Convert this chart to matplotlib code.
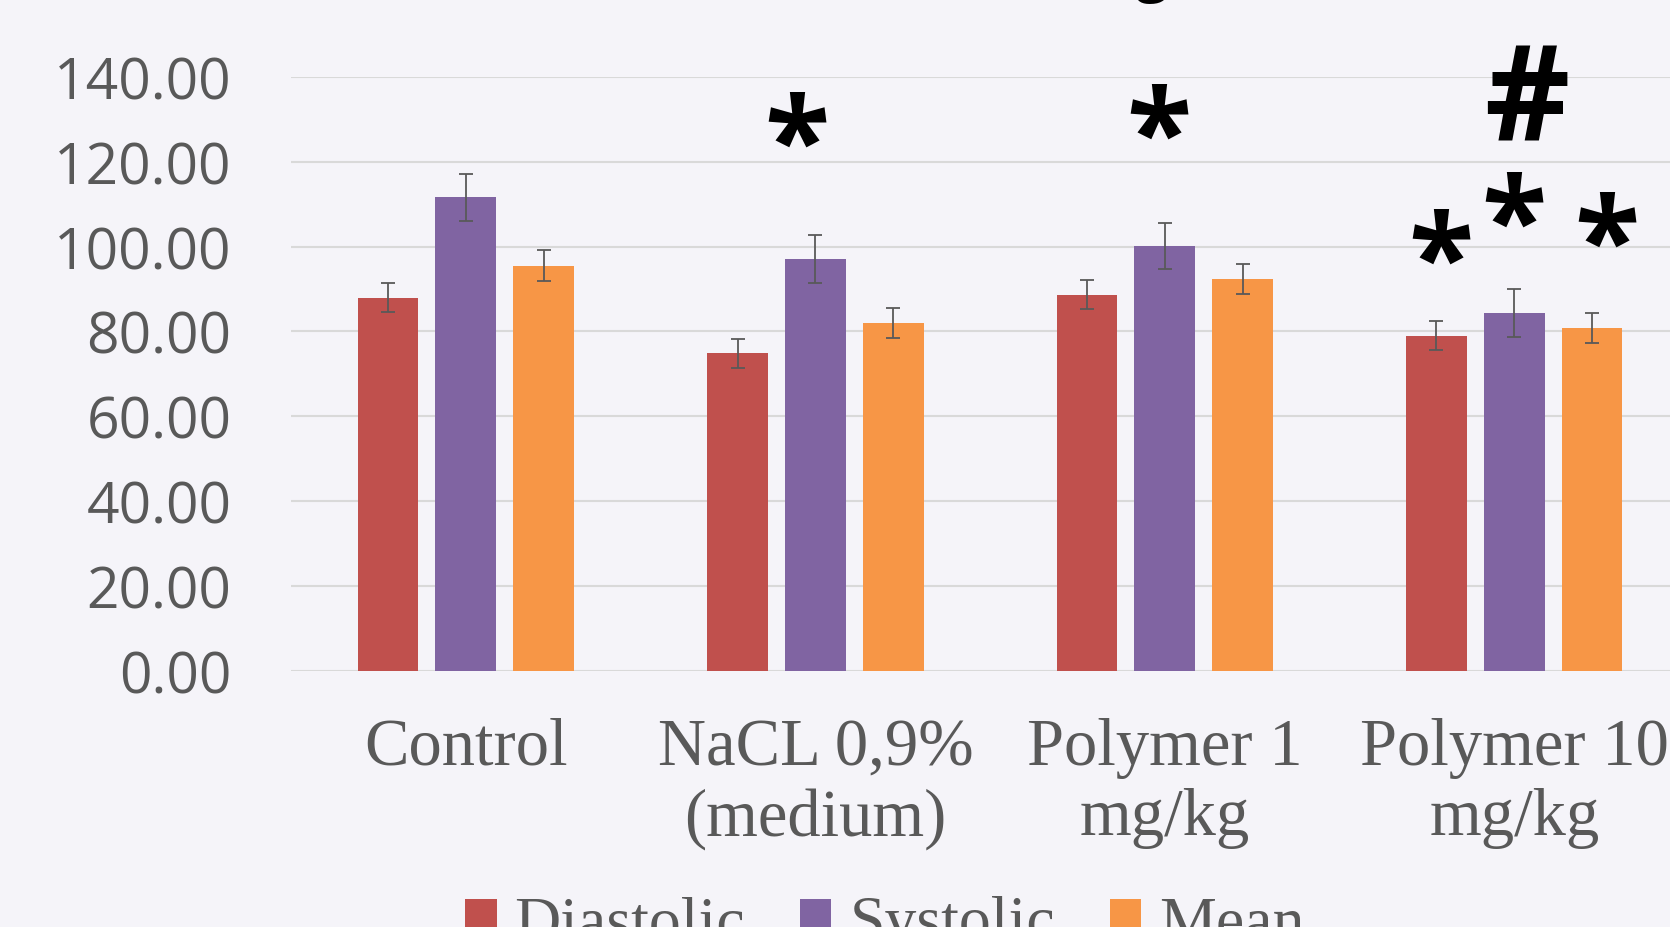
import matplotlib.pyplot as plt
import numpy as np
from matplotlib.patches import Patch

# data
groups = ["Control", "NaCL 0,9%\n(medium)", "Polymer 1\nmg/kg", "Polymer 10\nmg/kg"]
series = ["Diastolic", "Systolic", "Mean"]
diastolic = [87.9, 74.8, 88.6, 79.0]
systolic = [111.6, 97.1, 100.1, 84.3]
mean = [95.5, 82.0, 92.3, 80.8]
diastolic_err = [3.4, 3.4, 3.4, 3.4]
systolic_err = [5.6, 5.6, 5.5, 5.6]
mean_err = [3.7, 3.6, 3.6, 3.6]
yticks = [0, 20, 40, 60, 80, 100, 120, 140]
# significance marks: (group, series, symbol)
marks = [(1, 1, "*"), (2, 1, "*"), (3, 0, "*"), (3, 1, "*"), (3, 2, "*"), (3, 1, "#")]
title = "Blood Pressure mmHg"

colors = ["#C0504D", "#8064A2", "#F79646"]
bg = "#F5F4F9"
txt = "#595959"

values = [diastolic, systolic, mean]
errors = [diastolic_err, systolic_err, mean_err]

fig = plt.figure(figsize=(16.7, 9.28), dpi=100, facecolor=bg)
ax = fig.add_axes([0.1743, 0.2759, 0.8371, 0.6403], facecolor=bg)

x = np.arange(len(groups))
width = 0.174
step = 0.2226
for i in range(3):
    ax.bar(x + (i - 1) * step, values[i], width=width, color=colors[i], zorder=2)
    ax.errorbar(x + (i - 1) * step, values[i], yerr=errors[i], fmt="none",
                ecolor="#595959", elinewidth=1.3, capsize=5, capthick=1.3, zorder=3)

ax.set_xlim(-0.5, len(groups) - 0.5)
ax.set_ylim(0, 140)
ax.set_yticks(yticks)
ax.set_yticklabels(["%.2f" % v for v in yticks], fontfamily="Open Sans", fontsize=41, color=txt)
ax.set_xticks(x)
ax.set_xticklabels(groups, fontfamily="Liberation Serif", fontsize=48, color=txt, linespacing=1.2)
ax.tick_params(axis="y", length=0, pad=43)
ax.tick_params(axis="x", length=0, pad=33)
ax.grid(axis="y", color="#D9D9D9", linewidth=1.5, zorder=0)
for s in ax.spines.values():
    s.set_visible(False)

# significance symbols above the bars (x shift, height above error bar)
offsets = [(-0.053, 20.2), (-0.017, 19.2), (0.014, 12.9), (0.0, 14.2), (0.041, 14.9), (0.035, 43.5)]
for (g, s, sym), (ox, oy) in zip(marks, offsets):
    top = values[s][g] + errors[s][g]
    ax.text(x[g] + (s - 1) * step + ox, top + oy, sym, ha="center", va="center",
            fontfamily="Open Sans", fontweight="bold",
            fontsize=86 if sym == "*" else 95, color="black", clip_on=False)

# title, cut off by the top edge
fig.text(1168 / 1670, 1 + 10 / 928, title, ha="right", va="baseline",
         fontfamily="Open Sans", fontsize=44, color="black")

handles = [Patch(facecolor=c) for c in colors]
fig.legend(handles, series, loc="center", bbox_to_anchor=(0.530, 0.003), ncol=3,
           frameon=False, prop={"family": "Liberation Serif", "size": 46},
           labelcolor=txt, handlelength=0.49, handleheight=0.49,
           handletextpad=0.28, columnspacing=0.86, borderpad=0)

fig.savefig("out.png", dpi=100, facecolor=bg)
